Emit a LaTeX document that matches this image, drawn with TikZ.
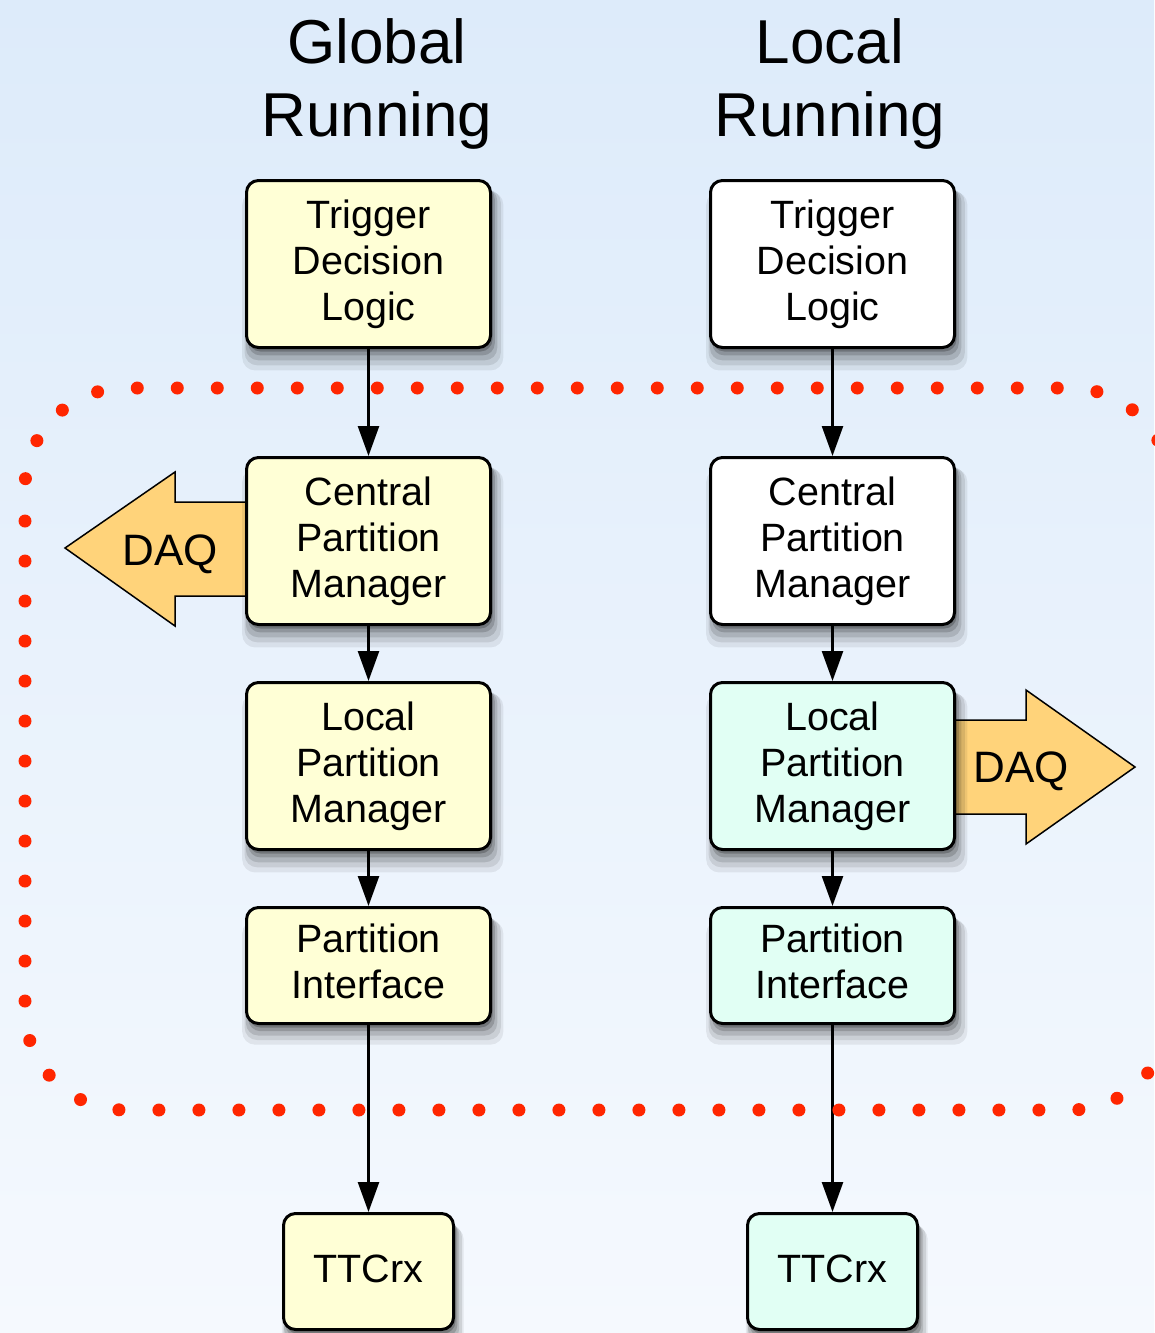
\documentclass[tikz,border=0pt]{standalone}
\usepackage{fontspec}
\setmainfont{Liberation Sans}
\usetikzlibrary{arrows.meta,shadows}
\definecolor{bgtop}{RGB}{221,235,250}
\definecolor{bgbot}{RGB}{245,249,254}
\definecolor{boxyellow}{RGB}{255,255,214}
\definecolor{boxmint}{RGB}{225,255,244}
\definecolor{daqorange}{RGB}{255,211,122}
\definecolor{dotred}{RGB}{255,38,0}
\newcommand\boxstrut{\rule[-0.21em]{0pt}{0.96em}}
\begin{document}
\begin{tikzpicture}[x=1pt,y=-1pt,
  softshadow/.style={
    drop shadow={shadow xshift=4pt, shadow yshift=-16pt, shadow scale=1.07, opacity=.07, fill=black},
    drop shadow={shadow xshift=4pt, shadow yshift=-13pt, shadow scale=1.05, opacity=.09, fill=black},
    drop shadow={shadow xshift=3pt, shadow yshift=-10pt, shadow scale=1.03, opacity=.12, fill=black},
    drop shadow={shadow xshift=3pt, shadow yshift=-7pt, shadow scale=1.01, opacity=.16, fill=black},
    drop shadow={shadow xshift=2pt, shadow yshift=-4pt, shadow scale=1.0, opacity=.22, fill=black}},
  blk/.style={draw=black, line width=3pt, rounded corners=12pt, minimum width=244pt,
    minimum height=167pt, inner sep=0pt, align=center,
    font=\fontsize{39.5}{46}\selectfont, softshadow,
    execute at begin node=\boxstrut, execute at end node=\boxstrut},
  shortblk/.style={blk, minimum height=116pt},
  ttcblk/.style={blk, minimum height=116pt, minimum width=170pt},
  yel/.style={fill=boxyellow},
  wht/.style={fill=white},
  mint/.style={fill=boxmint},
  flow/.style={line width=2.5pt, -{Triangle[length=30pt,width=21pt]}},
  daqshape/.style={draw=black, line width=1.5pt, fill=daqorange, line join=miter},
  daqtext/.style={font=\fontsize{44}{50}\selectfont, inner sep=0pt, anchor=base},
  titletext/.style={font=\fontsize{62}{73}\selectfont, inner sep=0pt, align=center, anchor=base},
  dotline/.style={draw=dotred, line width=13pt, line cap=round, dash pattern=on 0pt off 40pt, dash phase=7pt}
]
\useasboundingbox (0,0) rectangle (1154,1333);
\shade[top color=bgtop, bottom color=bgbot] (0,0) rectangle (1154,1333);

% titles
\node[titletext] (gtitle) at (377,136) {Global\\Running};
\node[titletext] (ltitle) at (830,136) {Local\\Running};

% DAQ arrows
\draw[daqshape] (250,502) -- (175,502) -- (175,472) -- (65,548) -- (175,626) -- (175,596) -- (250,596);
\draw[daqshape] (950,720) -- (1026,720) -- (1026,690) -- (1135,767) -- (1026,844) -- (1026,814) -- (950,814);
\node[daqtext] (daqL) at (170,565) {DAQ};
\node[daqtext] (daqR) at (1021,782) {DAQ};

% left column
\node[blk, yel] (tdlL) at (368.5,264) {Trigger\\Decision\\Logic};
\node[blk, yel] (cpmL) at (368.5,541) {Central\\Partition\\Manager};
\node[blk, yel] (lpmL) at (368.5,766) {Local\\Partition\\Manager};
\node[shortblk, yel] (piL) at (368.5,965.5) {Partition\\Interface};
\node[ttcblk, yel] (ttcL) at (368.5,1271.5) {TTCrx};

% right column
\node[blk, wht] (tdlR) at (832.5,264) {Trigger\\Decision\\Logic};
\node[blk, wht] (cpmR) at (832.5,541) {Central\\Partition\\Manager};
\node[blk, mint] (lpmR) at (832.5,766) {Local\\Partition\\Manager};
\node[shortblk, mint] (piR) at (832.5,965.5) {Partition\\Interface};
\node[ttcblk, mint] (ttcR) at (832.5,1271.5) {TTCrx};

% connectors
\draw[flow] (tdlL.south) -- (cpmL.north);
\draw[flow] (cpmL.south) -- (lpmL.north);
\draw[flow] (lpmL.south) -- (piL.north);
\draw[flow] (piL.south) -- (ttcL.north);
\draw[flow] (tdlR.south) -- (cpmR.north);
\draw[flow] (cpmR.south) -- (lpmR.north);
\draw[flow] (lpmR.south) -- (piR.north);
\draw[flow] (piR.south) -- (ttcR.north);

% dotted partition outline
\draw[dotline, rounded corners=100pt] (25,388) rectangle (1170,1110);
\end{tikzpicture}
\end{document}
